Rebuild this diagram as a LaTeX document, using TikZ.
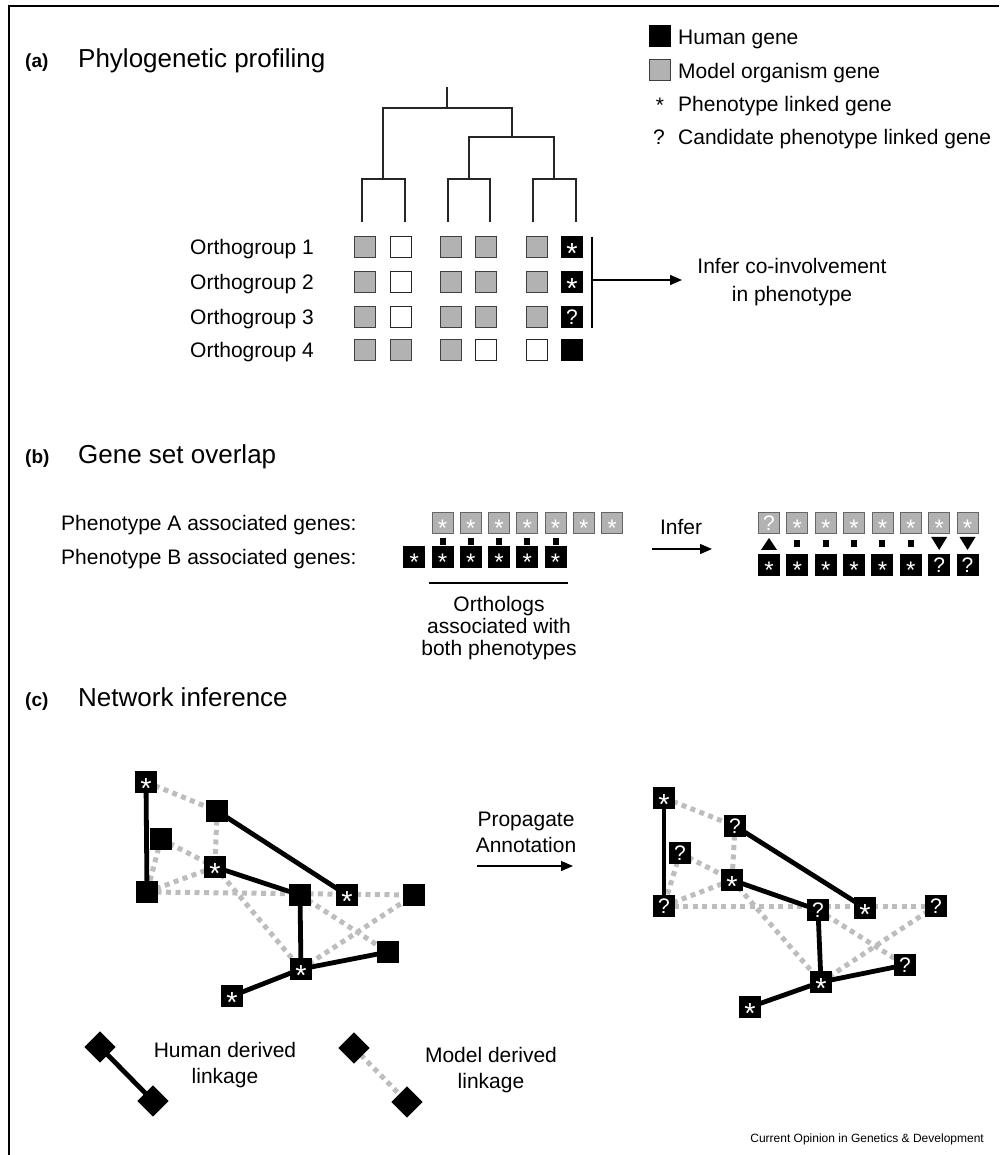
\documentclass[tikz,border=0pt]{standalone}
\usepackage{fontspec}
\setmainfont{Liberation Sans}
\usetikzlibrary{arrows.meta}
\pgfdeclarelayer{bg}
\pgfsetlayers{bg,main}
\definecolor{sqgray}{gray}{0.70}
\definecolor{dotgray}{gray}{0.74}
\tikzset{
  fs/.style={font=\fontsize{21}{25}\selectfont},
  ttl/.style={font=\fontsize{26}{30}\selectfont, anchor=base west, inner sep=0pt},
  tag/.style={font=\bfseries\fontsize{19}{22}\selectfont, anchor=base west, inner sep=0pt},
  gsq/.style={draw=black!75, line width=1.2pt, fill=sqgray, minimum size=21pt, inner sep=0pt},
  wsq/.style={draw=black!85, line width=1.2pt, fill=white, minimum size=21pt, inner sep=0pt},
  bsq/.style={fill=black, draw=none, minimum size=22pt, inner sep=0pt},
  gbsq/.style={draw=black!60, line width=0.9pt, fill=sqgray, minimum size=21pt, inner sep=0pt},
  starc/.style={text=white, font=\fontsize{29}{29}\selectfont, anchor=base, yshift=-16.5pt, inner sep=0pt},
  starb/.style={text=white, font=\fontsize{24}{24}\selectfont, anchor=base, yshift=-13.7pt, inner sep=0pt},
  qlab/.style={text=white, font=\fontsize{21}{21}\selectfont, anchor=base, yshift=-7.6pt, inner sep=0pt},
  solidlink/.style={line width=4.8pt, black},
  dotlink/.style={line width=5pt, dotgray, dash pattern=on 5pt off 4.5pt},
  thin/.style={line width=1.3pt, black!85},
  arr/.style={line width=1.3pt, -{Triangle[length=12pt,width=10pt]}},
  dia/.style={fill=black, minimum size=22pt, inner sep=0pt, rotate=45}
}
\newcommand\ST[1]{\node[starc] at (#1.center) {*};}
\newcommand\SB[1]{\node[starb] at (#1.center) {*};}
\newcommand\QQ[1]{\node[qlab] at (#1.center) {?};}
\begin{document}
\begin{tikzpicture}[x=1pt,y=-1pt]
\useasboundingbox (0,0) rectangle (999,1155);
% frame
\coordinate (fbl) at (9,1155);
\coordinate (ftl) at (9,6);
\coordinate (ftr) at (999,6);
\draw[line width=1.4pt] (fbl) -- (ftl) -- (ftr);

% ---------------- (a)
\node[tag] (ta) at (25,68) {(a)};
\node[ttl] (tta) at (78,68) {Phylogenetic profiling};

% legend
\node[bsq] (lg1) at (660,36) {};
\node[fs, anchor=base west, inner sep=0pt] (lt1) at (678,44.5) {Human gene};
\node[gsq] (lg2) at (660,70) {};
\node[fs, anchor=base west, inner sep=0pt] (lt2) at (678,78.5) {Model organism gene};
\node[fs, anchor=base, inner sep=0pt] (lg3) at (660,113) {*};
\node[fs, anchor=base west, inner sep=0pt] (lt3) at (678,111.5) {Phenotype linked gene};
\node[fs, anchor=base, inner sep=0pt] (lg4) at (659,145) {?};
\node[fs, anchor=base west, inner sep=0pt] (lt4) at (678,145) {Candidate phenotype linked gene};

% tree
\coordinate (root) at (447,87);
\coordinate (n0) at (447,108);
\coordinate (nL) at (383,179);
\coordinate (nR) at (512,137);
\coordinate (nR1) at (469,179);
\coordinate (nR2) at (554,179);
\coordinate (L1) at (362,222);
\coordinate (L2) at (405,222);
\coordinate (L3) at (448,222);
\coordinate (L4) at (490,222);
\coordinate (L5) at (533,222);
\coordinate (L6) at (576,222);
\draw[thin] (root) -- (n0);
\draw[thin] (nL) |- (n0) -| (nR);
\draw[thin] (L1) |- (nL) -| (L2);
\draw[thin] (nR1) |- (nR) -| (nR2);
\draw[thin] (L3) |- (nR1) -| (L4);
\draw[thin] (L5) |- (nR2) -| (L6);

% grid
\node[fs, anchor=base west, inner sep=0pt] (o1) at (190,254.5) {Orthogroup 1};
\node[fs, anchor=base west, inner sep=0pt] (o2) at (190,289.5) {Orthogroup 2};
\node[fs, anchor=base west, inner sep=0pt] (o3) at (190,324.5) {Orthogroup 3};
\node[fs, anchor=base west, inner sep=0pt] (o4) at (190,357.5) {Orthogroup 4};

\node[gsq] (g11) at (365,247) {};
\node[wsq] (g12) at (401,247) {};
\node[gsq] (g13) at (451,247) {};
\node[gsq] (g14) at (486,247) {};
\node[gsq] (g15) at (537,247) {};
\node[bsq] (g16) at (572,247) {}; \ST{g16}

\node[gsq] (g21) at (365,282) {};
\node[wsq] (g22) at (401,282) {};
\node[gsq] (g23) at (451,282) {};
\node[gsq] (g24) at (486,282) {};
\node[gsq] (g25) at (537,282) {};
\node[bsq] (g26) at (572,282) {}; \ST{g26}

\node[gsq] (g31) at (365,317) {};
\node[wsq] (g32) at (401,317) {};
\node[gsq] (g33) at (451,317) {};
\node[gsq] (g34) at (486,317) {};
\node[gsq] (g35) at (537,317) {};
\node[bsq] (g36) at (572,317) {}; \QQ{g36}

\node[gsq] (g41) at (365,350) {};
\node[gsq] (g42) at (401,350) {};
\node[gsq] (g43) at (451,350) {};
\node[wsq] (g44) at (486,350) {};
\node[wsq] (g45) at (537,350) {};
\node[bsq] (g46) at (572,350) {};

% bracket and arrow
\coordinate (bt) at (592,237);
\coordinate (bb) at (592,328);
\coordinate (bm) at (592,280);
\coordinate (ae) at (682,280);
\draw[line width=1.5pt] (bt) -- (bb);
\draw[arr] (bm) -- (ae);
\node[font=\fontsize{21}{28}\selectfont, align=center] (inf) at (792,282) {Infer co-involvement\\in phenotype};

% ---------------- (b)
\node[tag] (tb) at (25,463) {(b)};
\node[ttl] (ttb) at (78,463) {Gene set overlap};
\node[fs, anchor=base west, inner sep=0pt] (pa) at (61,530) {Phenotype A associated genes:};
\node[fs, anchor=base west, inner sep=0pt] (pb) at (61,564) {Phenotype B associated genes:};

\foreach \k in {0,...,6} {
  \node[gbsq] (la\k) at (442.5+28.25*\k,523) {};
  \SB{la\k}
}
\foreach \k in {0,...,5} {
  \node[bsq] (lb\k) at (414.25+28.25*\k,557) {};
  \SB{lb\k}
}
\foreach \k/\j in {0/1,1/2,2/3,3/4,4/5} {
  \draw[line width=6pt] ([yshift=-4pt]la\k.south) -- ([yshift=1pt]lb\j.north);
}
\coordinate (ul1) at (429,583);
\coordinate (ul2) at (568,583);
\draw[line width=1.5pt] (ul1) -- (ul2);
\node[font=\fontsize{21}{22}\selectfont, align=center] (orth) at (499,628) {Orthologs\\associated with\\both phenotypes};

\node[fs] (infb) at (681,527) {Infer};
\coordinate (ib1) at (652,549);
\coordinate (ib2) at (712,549);
\draw[arr] (ib1) -- (ib2);

\foreach \k in {0,...,7} {
  \node[gbsq] (ra\k) at (769+28.36*\k,523) {};
  \node[bsq] (rb\k) at (769+28.36*\k,564.5) {};
}
\QQ{ra0}
\foreach \k in {1,...,7} {\SB{ra\k}}
\foreach \k in {0,...,5} {\SB{rb\k}}
\QQ{rb6} \QQ{rb7}
\fill ([shift={(-8pt,-16pt)}]ra0.south) -- ([yshift=-4pt]ra0.south) -- ([shift={(8pt,-16pt)}]ra0.south) -- cycle;
\fill ([shift={(-8pt,-3pt)}]ra6.south) -- ([yshift=-16pt]ra6.south) -- ([shift={(8pt,-3pt)}]ra6.south) -- cycle;
\fill ([shift={(-8pt,-3pt)}]ra7.south) -- ([yshift=-16pt]ra7.south) -- ([shift={(8pt,-3pt)}]ra7.south) -- cycle;
\foreach \k in {1,...,5} {
  \draw[line width=6pt] ([yshift=-6pt]ra\k.south) -- ([yshift=-13pt]ra\k.south);
}

% ---------------- (c)
\node[tag] (tc) at (25,706) {(c)};
\node[ttl] (ttc) at (78,706) {Network inference};

% left network
\node[bsq] (A) at (146,782) {}; \ST{A}
\node[bsq] (B) at (217,811) {};
\node[bsq] (C) at (161,839) {};
\node[bsq] (D) at (215,867) {}; \ST{D}
\node[bsq] (E) at (147,892) {};
\node[bsq] (F) at (300,895) {};
\node[bsq] (G) at (347,895) {}; \ST{G}
\node[bsq] (H) at (414,895) {};
\node[bsq] (I) at (388,952) {};
\node[bsq] (J) at (301,969) {}; \ST{J}
\node[bsq] (K) at (232,996) {}; \ST{K}

% right network
\node[bsq] (A2) at (664,798) {}; \ST{A2}
\node[bsq] (B2) at (735,826) {}; \QQ{B2}
\node[bsq] (C2) at (680,853) {}; \QQ{C2}
\node[bsq] (D2) at (732,880) {}; \ST{D2}
\node[bsq] (E2) at (664,906) {}; \QQ{E2}
\node[bsq] (F2) at (818,910) {}; \QQ{F2}
\node[bsq] (G2) at (865,908) {}; \ST{G2}
\node[bsq] (H2) at (936,906) {}; \QQ{H2}
\node[bsq] (I2) at (905,965) {}; \QQ{I2}
\node[bsq] (J2) at (821,982) {}; \ST{J2}
\node[bsq] (K2) at (750,1007) {}; \ST{K2}

\begin{pgfonlayer}{bg}
\foreach \s in {,2} {
  \foreach \a/\b in {A/B,B/D,C/E,C/D,E/D,E/H,D/J,F/I,J/H} {
    \draw[dotlink] (\a\s.center) -- (\b\s.center);
  }
  \foreach \a/\b in {A/E,B/G,D/F,F/J,J/K,J/I} {
    \draw[solidlink] (\a\s.center) -- (\b\s.center);
  }
}
\end{pgfonlayer}

\node[font=\fontsize{21}{26}\selectfont, align=center] (prop) at (526,832) {Propagate\\Annotation};
\coordinate (pa1) at (477,866);
\coordinate (pa2) at (573,866);
\draw[arr] (pa1) -- (pa2);

% bottom legend
\node[dia] (d1) at (100,1047) {};
\node[dia] (d2) at (153,1101) {};
\node[dia] (d3) at (354,1048) {};
\node[dia] (d4) at (407,1102) {};
\begin{pgfonlayer}{bg}
\draw[solidlink] (d1.center) -- (d2.center);
\draw[dotlink] (d3.center) -- (d4.center);
\end{pgfonlayer}
\node[font=\fontsize{21}{26}\selectfont, align=center] (hl) at (225,1065) {Human derived\\linkage};
\node[font=\fontsize{21}{26}\selectfont, align=center] (ml) at (491,1070) {Model derived\\linkage};

\node[font=\fontsize{12}{14}\selectfont, anchor=base east, inner sep=0pt] (src) at (984,1142) {Current Opinion in Genetics \& Development};
\end{tikzpicture}
\end{document}
